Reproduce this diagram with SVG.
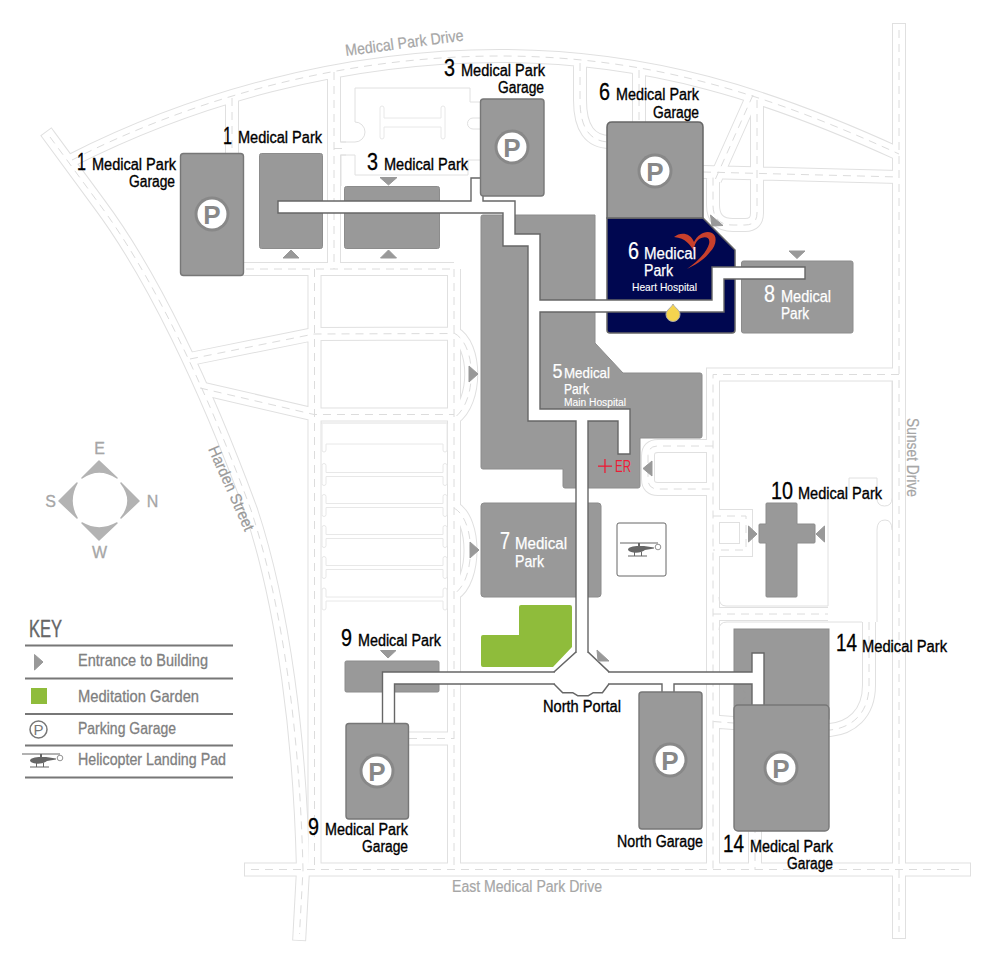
<svg xmlns="http://www.w3.org/2000/svg" xmlns:xlink="http://www.w3.org/1999/xlink" width="1000" height="978" viewBox="0 0 1000 978">
<style>
text{font-family:"Liberation Sans Narrow","Liberation Sans",Arial,sans-serif}
.lab{font-size:16px;fill:#000;stroke:#000;stroke-width:.35}
.num{font-size:23px;fill:#000;stroke:#000;stroke-width:.3}
.wl{font-size:16px;fill:#fff;stroke:#fff;stroke-width:.25}
.wn{font-size:23px;fill:#fff;stroke:#fff;stroke-width:.2}
.ws{font-size:11.500px;fill:#fff;stroke:#fff;stroke-width:.1}
.road{font-size:16px;fill:#a6a6a6;stroke:#a6a6a6;stroke-width:.2}
.key{font-size:16.500px;fill:#808080;stroke:#808080;stroke-width:.3}
.bld{fill:#999;stroke:#8c8c8c;stroke-width:1}
.gar{fill:#999;stroke:#777;stroke-width:1.400}
.ent{fill:#999;stroke:#999;stroke-width:1;stroke-linejoin:round}
.thin{fill:none;stroke:#e0e0e0;stroke-width:1}
.isl{fill:#fff;stroke:#e8e8e8;stroke-width:1}
.rOut{fill:none;stroke:#e0e0e0;stroke-width:14}
.rIn{fill:none;stroke:#fff;stroke-width:12}
.rDash{fill:none;stroke:#dcdcdc;stroke-width:1;stroke-dasharray:8 6}
.sq{stroke-linecap:square}
.comp{fill:#b3b3b3;stroke:#b3b3b3;stroke-width:1.500;stroke-linejoin:round}
.cl{font-size:16px;fill:#a6a6a6;text-anchor:middle;stroke:#a6a6a6;stroke-width:.3}
.keyline{stroke:#777;stroke-width:2}
.wBord{fill:none;stroke:#666;stroke-width:13.400;stroke-linecap:square;stroke-linejoin:miter}
.wFill{fill:none;stroke:#fff;stroke-width:10.600;stroke-linecap:square;stroke-linejoin:miter}
</style>
<defs>
<path id="rMain" d="M50,137 L100,205 C152,275 205,385 251,510 C284,610 300,740 303,870 L299.500,934 M899,30 L899,932 M251,869.500 L964,869.500"/>
<path id="rBranch" d="M72,160 C190,100 340,56 500,56 C650,56 770,95 899,154 M232,98 L232,269 M334,72 L334,269 M232,269 L454,269 M314.500,269 L314.500,870 M454,269 L454,870 M190,359 L314,334 L454,333.500 M200,388 L314,414.500 L454,414.500 M454,333 C477,345 477,402 454,418 M454,508 C476,520 476,580 454,594 M334,148.500 L346,148.500 M580,63 L580,100 C580,128 590,142 610,142 M639,70 L639,125 M753,95 L715,180 M757,100 L757,213 Q757,225 745,225 L733,225 Q713,225 713,205 L713,173 M703,172 L899,177 M899,374.500 L713,374.500 L713,870 M713,446 L658,446 Q648,446 648,456 L648,479 Q648,489 658,489 L713,489 M713,516 L746,516 L746,550 L713,550 M713,614 L828,614 M869,622 L869,685 C869,715 850,728 830,730 L713,721.500 M755,825 L755,870 M395,738.500 L454,738.500"/>
<g id="pIcon"><circle r="17.500" fill="#888"/><circle r="14.500" fill="#fff"/><text y="9.500" text-anchor="middle" font-size="26" font-weight="bold" fill="#888" style="font-family:'Liberation Sans',sans-serif">P</text></g>
<path id="aisle" class="isl" d="M326,-2 L443,-2 L443,-9 Q443,-11 445,-11 Q447,-11 447,-9 L447,9 Q447,11 445,11 Q443,11 443,9 L443,2 L326,2 L326,9 Q326,11 324,11 Q322,11 322,9 L322,-9 Q322,-11 324,-11 Q326,-11 326,-9 Z"/>
<g id="heli" fill="#666" stroke="none">
<rect x="-19" y="-0.500" width="38" height="1"/>
<rect x="-1" y="0" width="2" height="3"/>
<path d="M-11,7 C-11,4 -6,3 0,3 L5,3 L15,4.500 L15,5.500 L6,7 C3,10 -8,11 -11,7 Z"/>
<path d="M-11,12.500 L8,12.500 L8,13.500 L-11,13.500 Z M-5,9 L-4,9 L-4,13 L-5,13 Z M2,9 L3,9 L3,13 L2,13 Z"/>
<circle cx="19" cy="4" r="2.800" fill="#fff" stroke="#777" stroke-width=".8"/>
</g>
</defs>

<g id="roads">
<use xlink:href="#rMain" href="#rMain" class="rOut sq"/>
<use xlink:href="#rBranch" href="#rBranch" class="rOut"/>
<use xlink:href="#rMain" href="#rMain" class="rIn sq"/>
<use xlink:href="#rBranch" href="#rBranch" class="rIn"/>
<use xlink:href="#rMain" href="#rMain" class="rDash"/>
<use xlink:href="#rBranch" href="#rBranch" class="rDash"/>
<path class="thin" d="M355,88 L470,88 L470,102 L480,102 M355,88 L355,122 A10,10 0 0 1 355,142 L341,142 M341,186 L341,155 L355,155 L355,175 L468,175 L468,160 L480,160 M480,118 L473,118 A5.500,5.500 0 0 0 473,129 L480,129"/>
<path class="isl" d="M384,118 L441,118 L441,108 Q441,106 443,106 Q445,106 445,108 L445,137 Q445,139 443,139 Q441,139 441,137 L441,127 L384,127 L384,137 Q384,139 382,139 Q380,139 380,137 L380,108 Q380,106 382,106 Q384,106 384,108 Z"/>
<path class="thin" d="M892,381 L892,498 Q892,506 884.500,506 Q877,506 877,498 L877,478 L849,478 L849,490 M828,500 L828,606 L726,606 Q719,606 719,597 M719,630 Q719,622 727,622 L862,622 M877,622 L877,530 Q877,520 885,520 Q892,520 892,530"/>
<path class="thin" d="M321,423 L448,423"/>
<path class="isl" d="M322,424 L322,450 Q322,452 324,452 Q326,452 326,450 L326,444 L443,444 L443,450 Q443,452 445,452 Q447,452 447,450 L447,424"/>
<use href="#aisle" xlink:href="#aisle" y="474.500"/>
<use href="#aisle" xlink:href="#aisle" y="505.500"/>
<use href="#aisle" xlink:href="#aisle" y="536.500"/>
<use href="#aisle" xlink:href="#aisle" y="567.500"/>
<use href="#aisle" xlink:href="#aisle" y="599"/>
<text class="road" transform="translate(346,56) rotate(-7.500)" textLength="119" lengthAdjust="spacingAndGlyphs">Medical Park Drive</text>
<text class="road" x="452" y="892" textLength="150" lengthAdjust="spacingAndGlyphs">East Medical Park Drive</text>
<text class="road" transform="translate(907,418) rotate(90)" textLength="79" lengthAdjust="spacingAndGlyphs">Sunset Drive</text>
<text class="road" style="fill:#999;stroke:#999" transform="translate(208,449) rotate(66)" textLength="91" lengthAdjust="spacingAndGlyphs">Harden Street</text>
</g>

<g id="main-hospital">
<path class="bld" d="M481,217 Q481,215 483,215 L595,215 L595,343 L623,373 L700,373 Q702,373 702,375 L702,436 Q702,438 700,438 L640,438 L640,486 Q640,488 638,488 L565,488 Q563,488 563,486 L563,469 L483,469 Q481,469 481,467 Z"/>
<text class="wn" x="552.500" y="378" textLength="10" lengthAdjust="spacingAndGlyphs" style="font-size:21px">5</text>
<text class="wl" x="564" y="377.500" textLength="46" lengthAdjust="spacingAndGlyphs" style="font-size:15px">Medical</text>
<text class="wl" x="564" y="393.500" textLength="25" lengthAdjust="spacingAndGlyphs" style="font-size:14px">Park</text>
<text class="ws" x="564" y="405.500" textLength="62" lengthAdjust="spacingAndGlyphs" style="font-size:10px">Main Hospital</text>
<g fill="#ed1c36"><rect x="598" y="465.500" width="14" height="1.300"/><rect x="604.300" y="459" width="1.300" height="14"/></g>
<text x="615" y="472" font-size="16" fill="#ed1c36" textLength="16" lengthAdjust="spacingAndGlyphs">ER</text>
<path class="ent" d="M652,461 L643,468.500 L652,476 Z"/>
</g>

<g id="garage-6-heart-hospital">
<path d="M607,218 L703,218 L735,250 L735,330 Q735,333 732,333 L610,333 Q607,333 607,330 Z" fill="#000750" stroke="#666" stroke-width="1.500"/>
<path d="M674,237 C680,232 690,232 694,242 C698,234 706,230 712,233 C718,236 716,246 710,252 C704,260 695,265 687,269 C697,262 707,252 709,244 C711,236 703,236 698,240 C694,244 694,249 694,251 C690,245 686,238 674,237 Z" fill="#c8402c"/>
<text class="wn" x="628" y="259" textLength="11" lengthAdjust="spacingAndGlyphs">6</text>
<text class="wl" x="644" y="259" textLength="52" lengthAdjust="spacingAndGlyphs">Medical</text>
<text class="wl" x="644" y="276" textLength="29" lengthAdjust="spacingAndGlyphs">Park</text>
<text class="ws" x="632" y="291" textLength="65" lengthAdjust="spacingAndGlyphs">Heart Hospital</text>
</g>

<g id="medical-park-8">
<rect class="bld" x="741.500" y="261" width="111.500" height="72" rx="2"/>
<text class="wn" x="764" y="302" textLength="11" lengthAdjust="spacingAndGlyphs">8</text>
<text class="wl" x="781" y="302" textLength="50" lengthAdjust="spacingAndGlyphs">Medical</text>
<text class="wl" x="781" y="319" textLength="28" lengthAdjust="spacingAndGlyphs">Park</text>
<path class="ent" d="M789,251 L805,251 L797,258.500 Z"/>
</g>

<g id="medical-park-1">
<rect class="bld" x="259.500" y="153.500" width="63" height="95" rx="2"/>
<path class="ent" d="M291,250 L299,258 L283,258 Z"/>
<text class="num" x="223" y="143.500" textLength="9" lengthAdjust="spacingAndGlyphs">1</text>
<text class="lab" x="238" y="143" textLength="84" lengthAdjust="spacingAndGlyphs">Medical Park</text>
</g>

<g id="medical-park-3">
<rect class="bld" x="344.500" y="186.500" width="95" height="62" rx="2"/>
<path class="ent" d="M380,177.500 L397,177.500 L388.500,185 Z"/>
<path class="ent" d="M388.500,250 L396.500,258 L380.500,258 Z"/>
<text class="num" x="367" y="170" textLength="11" lengthAdjust="spacingAndGlyphs">3</text>
<text class="lab" x="384" y="170" textLength="84" lengthAdjust="spacingAndGlyphs">Medical Park</text>
</g>

<g id="medical-park-7">
<rect class="bld" x="481" y="503" width="120" height="94" rx="3"/>
<text class="wn" x="500" y="549" textLength="10" lengthAdjust="spacingAndGlyphs">7</text>
<text class="wl" x="515" y="549" textLength="52" lengthAdjust="spacingAndGlyphs">Medical</text>
<text class="wl" x="515" y="567" textLength="29" lengthAdjust="spacingAndGlyphs">Park</text>
<path class="ent" d="M470,542 L479,550 L470,558 Z"/>
</g>
<path class="ent" d="M469,366 L478,374 L469,382 Z"/>

<g id="meditation-garden">
<path d="M519,607 Q519,605 521,605 L570,605 Q572,605 572,607 L572,647 L553,667 L483,667 Q481,667 481,665 L481,637 Q481,635 483,635 L519,635 Z" fill="#8fbc3b"/>
</g>

<g id="helipad">
<rect x="617" y="523" width="49" height="53" rx="2" fill="#fff" stroke="#666" stroke-width="1"/>
<use href="#heli" xlink:href="#heli" x="639" y="543"/>
</g>

<g id="medical-park-9">
<rect class="bld" x="345" y="661" width="94" height="31" rx="1.500"/>
<path class="ent" d="M380.500,650.500 L396,650.500 L388,658 Z"/>
<text class="num" x="341" y="646" textLength="11" lengthAdjust="spacingAndGlyphs">9</text>
<text class="lab" x="358" y="646" textLength="83" lengthAdjust="spacingAndGlyphs">Medical Park</text>
</g>

<g id="medical-park-10">
<path class="bld" d="M766,504 Q766,503 767,503 L796,503 Q797,503 797,504 L797,524 L814,524 Q815,524 815,525 L815,542 Q815,543 814,543 L797,543 L797,596 Q797,597 796,597 L767,597 Q766,597 766,596 L766,543 L760,543 Q759,543 759,542 L759,525 Q759,524 760,524 L766,524 Z"/>
<path class="ent" d="M748.500,526 L757,534 L748.500,542 Z"/>
<path class="ent" d="M824.500,526 L816,534 L824.500,542 Z"/>
<text class="num" x="771" y="499" textLength="22" lengthAdjust="spacingAndGlyphs">10</text>
<text class="lab" x="798" y="499" textLength="84" lengthAdjust="spacingAndGlyphs">Medical Park</text>
</g>

<g id="medical-park-14">
<rect class="bld" x="734" y="629" width="95" height="90" stroke="none"/>
<text class="num" x="836" y="651" textLength="21" lengthAdjust="spacingAndGlyphs">14</text>
<text class="lab" x="862" y="652" textLength="85" lengthAdjust="spacingAndGlyphs">Medical Park</text>
<path class="ent" d="M739.500,687 L748,695 L739.500,703 Z"/>
</g>

<g id="connectors">
<path class="wBord" d="M284,207 L509,207 L509,240 L534,240 L534,415 L624,415 L624,448 M477,184 L477,207 M534,306 L718,306 L718,273 L799,273 M582,415 L582,660 M388.500,724 L388.500,678 L758,678 L758,659 M758,678 L758,710 M668,678 L668,695"/>
<path d="M555,672 L576,653 L588,653 L608,672 L608,684 L602,692 L593,692 L588,695 L578,695 L573,692 L563,692 L555,684 Z" fill="#666" stroke="#666" stroke-width="3"/>
<path class="wFill" d="M284,207 L509,207 L509,240 L534,240 L534,415 L624,415 L624,448 M477,184 L477,207 M534,306 L718,306 L718,273 L799,273 M582,415 L582,660 M388.500,724 L388.500,678 L758,678 L758,659 M758,678 L758,710 M668,678 L668,695"/>
<path d="M555,672 L576,653 L588,653 L608,672 L608,684 L602,692 L593,692 L588,695 L578,695 L573,692 L563,692 L555,684 Z" fill="#fff"/>
<path class="ent" d="M597,650 L609,661 L598,661 Z"/>
<path d="M673,304 C675,308 680,310 680,314.500 A7,7 0 0 1 666,314.500 C666,310 671,308 673,304 Z" fill="#f5d44f" stroke="#aaa" stroke-width="1"/>
</g>

<g id="garage-1">
<rect class="gar" x="180.500" y="153.500" width="63" height="122" rx="3"/>
<use href="#pIcon" xlink:href="#pIcon" x="212" y="214"/>
<text class="num" x="77" y="170" textLength="9" lengthAdjust="spacingAndGlyphs">1</text>
<text class="lab" x="92" y="170" textLength="84" lengthAdjust="spacingAndGlyphs">Medical Park</text>
<text class="lab" x="129" y="187" textLength="46" lengthAdjust="spacingAndGlyphs">Garage</text>
</g>
<g id="garage-3">
<rect class="gar" x="480.500" y="99" width="63.500" height="97" rx="3"/>
<use href="#pIcon" xlink:href="#pIcon" x="512" y="147"/>
<text class="num" x="444" y="76" textLength="11" lengthAdjust="spacingAndGlyphs">3</text>
<text class="lab" x="461" y="76" textLength="84" lengthAdjust="spacingAndGlyphs">Medical Park</text>
<text class="lab" x="498" y="93" textLength="46" lengthAdjust="spacingAndGlyphs">Garage</text>
</g>
<g id="garage-6">
<path d="M607,218 L607,127 Q607,122 612,122 L698,122 Q703,122 703,127 L703,218 Z" fill="#999" stroke="#666" stroke-width="1.500"/>
<use href="#pIcon" xlink:href="#pIcon" x="655" y="171"/>
<path class="ent" d="M710.500,215 L723,225.500 L712,226 Z"/>
<text class="num" x="599" y="100" textLength="11" lengthAdjust="spacingAndGlyphs">6</text>
<text class="lab" x="616" y="100" textLength="83" lengthAdjust="spacingAndGlyphs">Medical Park</text>
<text class="lab" x="653" y="118" textLength="46" lengthAdjust="spacingAndGlyphs">Garage</text>
</g>
<g id="garage-9">
<rect class="gar" x="346" y="723.500" width="62.500" height="95.500" rx="3"/>
<use href="#pIcon" xlink:href="#pIcon" x="377" y="771"/>
<text class="num" x="308" y="835" textLength="11" lengthAdjust="spacingAndGlyphs">9</text>
<text class="lab" x="325" y="835" textLength="83" lengthAdjust="spacingAndGlyphs">Medical Park</text>
<text class="lab" x="362" y="852" textLength="46" lengthAdjust="spacingAndGlyphs">Garage</text>
</g>
<g id="north-garage">
<rect class="gar" x="639" y="692" width="63" height="137" rx="3"/>
<use href="#pIcon" xlink:href="#pIcon" x="670" y="760"/>
<text class="lab" x="617" y="847" textLength="86" lengthAdjust="spacingAndGlyphs">North Garage</text>
</g>
<g id="garage-14">
<rect class="gar" x="734" y="705" width="95" height="126" rx="4"/>
<use href="#pIcon" xlink:href="#pIcon" x="781" y="768"/>
<text class="num" x="723" y="852" textLength="21" lengthAdjust="spacingAndGlyphs">14</text>
<text class="lab" x="750" y="852" textLength="83" lengthAdjust="spacingAndGlyphs">Medical Park</text>
<text class="lab" x="787" y="869" textLength="46" lengthAdjust="spacingAndGlyphs">Garage</text>
</g>
<g id="north-portal">
<text class="lab" x="543" y="712" textLength="78" lengthAdjust="spacingAndGlyphs">North Portal</text>
</g>

<g id="compass">
<path class="comp" d="M99,461 L117,478 Q99,466 82,478 Z"/>
<path class="comp" d="M139,501 L121,518 Q135,501 121,483 Z"/>
<path class="comp" d="M99,540 L82,523 Q99,533 117,523 Z"/>
<path class="comp" d="M59,501 L77,483 Q67,501 77,518 Z"/>
<text class="cl" x="99.500" y="454">E</text>
<text class="cl" x="50.500" y="507">S</text>
<text class="cl" x="152.500" y="507">N</text>
<text class="cl" x="99.500" y="558">W</text>
</g>

<g id="key">
<text x="29" y="637" font-size="24" fill="#666" stroke="#666" stroke-width=".4" textLength="33" lengthAdjust="spacingAndGlyphs">KEY</text>
<line class="keyline" x1="25" y1="645.500" x2="233" y2="645.500"/>
<line class="keyline" x1="25" y1="678.500" x2="233" y2="678.500"/>
<line class="keyline" x1="25" y1="714" x2="233" y2="714"/>
<line class="keyline" x1="25" y1="745.500" x2="233" y2="745.500"/>
<line class="keyline" x1="25" y1="777.500" x2="233" y2="777.500"/>
<path class="ent" d="M34.500,654.500 L43,662 L34.500,670 Z"/>
<rect x="31" y="688" width="16" height="16" fill="#8fbc3b"/>
<circle cx="38.500" cy="729.500" r="8.500" fill="#fff" stroke="#777" stroke-width="1.500"/>
<text x="38.500" y="735" text-anchor="middle" font-size="15" fill="#777" style="font-family:'Liberation Sans',sans-serif">P</text>
<use href="#heli" xlink:href="#heli" x="41" y="754"/>
<text class="key" x="78" y="666" textLength="130" lengthAdjust="spacingAndGlyphs">Entrance to Building</text>
<text class="key" x="78" y="702" textLength="121" lengthAdjust="spacingAndGlyphs">Meditation Garden</text>
<text class="key" x="78" y="734" textLength="98" lengthAdjust="spacingAndGlyphs">Parking Garage</text>
<text class="key" x="78" y="765" textLength="148" lengthAdjust="spacingAndGlyphs">Helicopter Landing Pad</text>
</g>
</svg>
